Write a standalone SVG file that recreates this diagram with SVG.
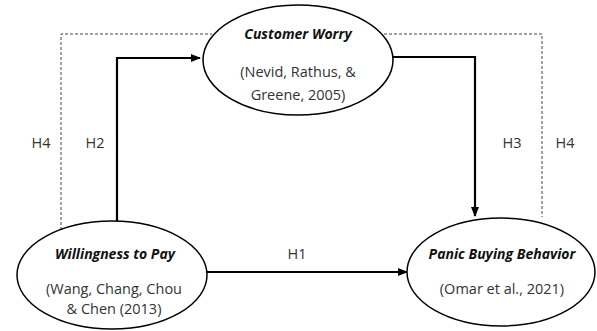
<svg xmlns="http://www.w3.org/2000/svg" width="597" height="331" viewBox="0 0 597 331">
<style>
.node{fill:#fff;stroke:#000;stroke-width:1.5}
.t{font-family:"Open Sans","Liberation Sans",sans-serif;font-size:14.5px;fill:#333;text-anchor:middle}
.b{font-weight:bold;font-style:italic;fill:#111;font-size:14px}
.c{fill:none;stroke:#000;stroke-width:2.2}
.d{fill:none;stroke:#444;stroke-width:1;stroke-dasharray:3,2}
</style>
<defs>
<marker id="ah" markerWidth="10" markerHeight="8" refX="9" refY="4" orient="auto" markerUnits="userSpaceOnUse">
<path d="M0,0 L10,4 L0,8 Z" fill="#000"/>
</marker>
</defs>
<g id="connectors">
<path class="d" d="M61,230 V34 H212"/>
<path class="d" d="M384,34 H542 V217"/>
<path class="c" d="M117,222 V58 H200" marker-end="url(#ah)"/>
<path class="c" d="M392,57 H475 V216" marker-end="url(#ah)"/>
<path class="c" d="M207,272 H407" marker-end="url(#ah)"/>
</g>
<g id="labels">
<text class="t" x="41" y="148">H4</text>
<text class="t" x="95" y="148">H2</text>
<text class="t" x="512" y="148">H3</text>
<text class="t" x="565" y="148">H4</text>
<text class="t" x="297" y="259">H1</text>
</g>
<g id="customer-worry">
<ellipse class="node" cx="298" cy="60" rx="95" ry="55"/>
<text class="t b" x="298" y="39">Customer Worry</text>
<text class="t" x="298" y="77">(Nevid, Rathus, &amp;</text>
<text class="t" x="298" y="100">Greene, 2005)</text>
</g>
<g id="willingness-to-pay">
<ellipse class="node" cx="112" cy="275" rx="95" ry="54"/>
<text class="t b" x="115" y="259">Willingness to Pay</text>
<text class="t" x="114" y="294">(Wang, Chang, Chou</text>
<text class="t" x="114" y="314">&amp; Chen (2013)</text>
</g>
<g id="panic-buying-behavior">
<ellipse class="node" cx="501" cy="272" rx="94" ry="54"/>
<text class="t b" x="502" y="259">Panic Buying Behavior</text>
<text class="t" x="502" y="294">(Omar et al., 2021)</text>
</g>
</svg>
